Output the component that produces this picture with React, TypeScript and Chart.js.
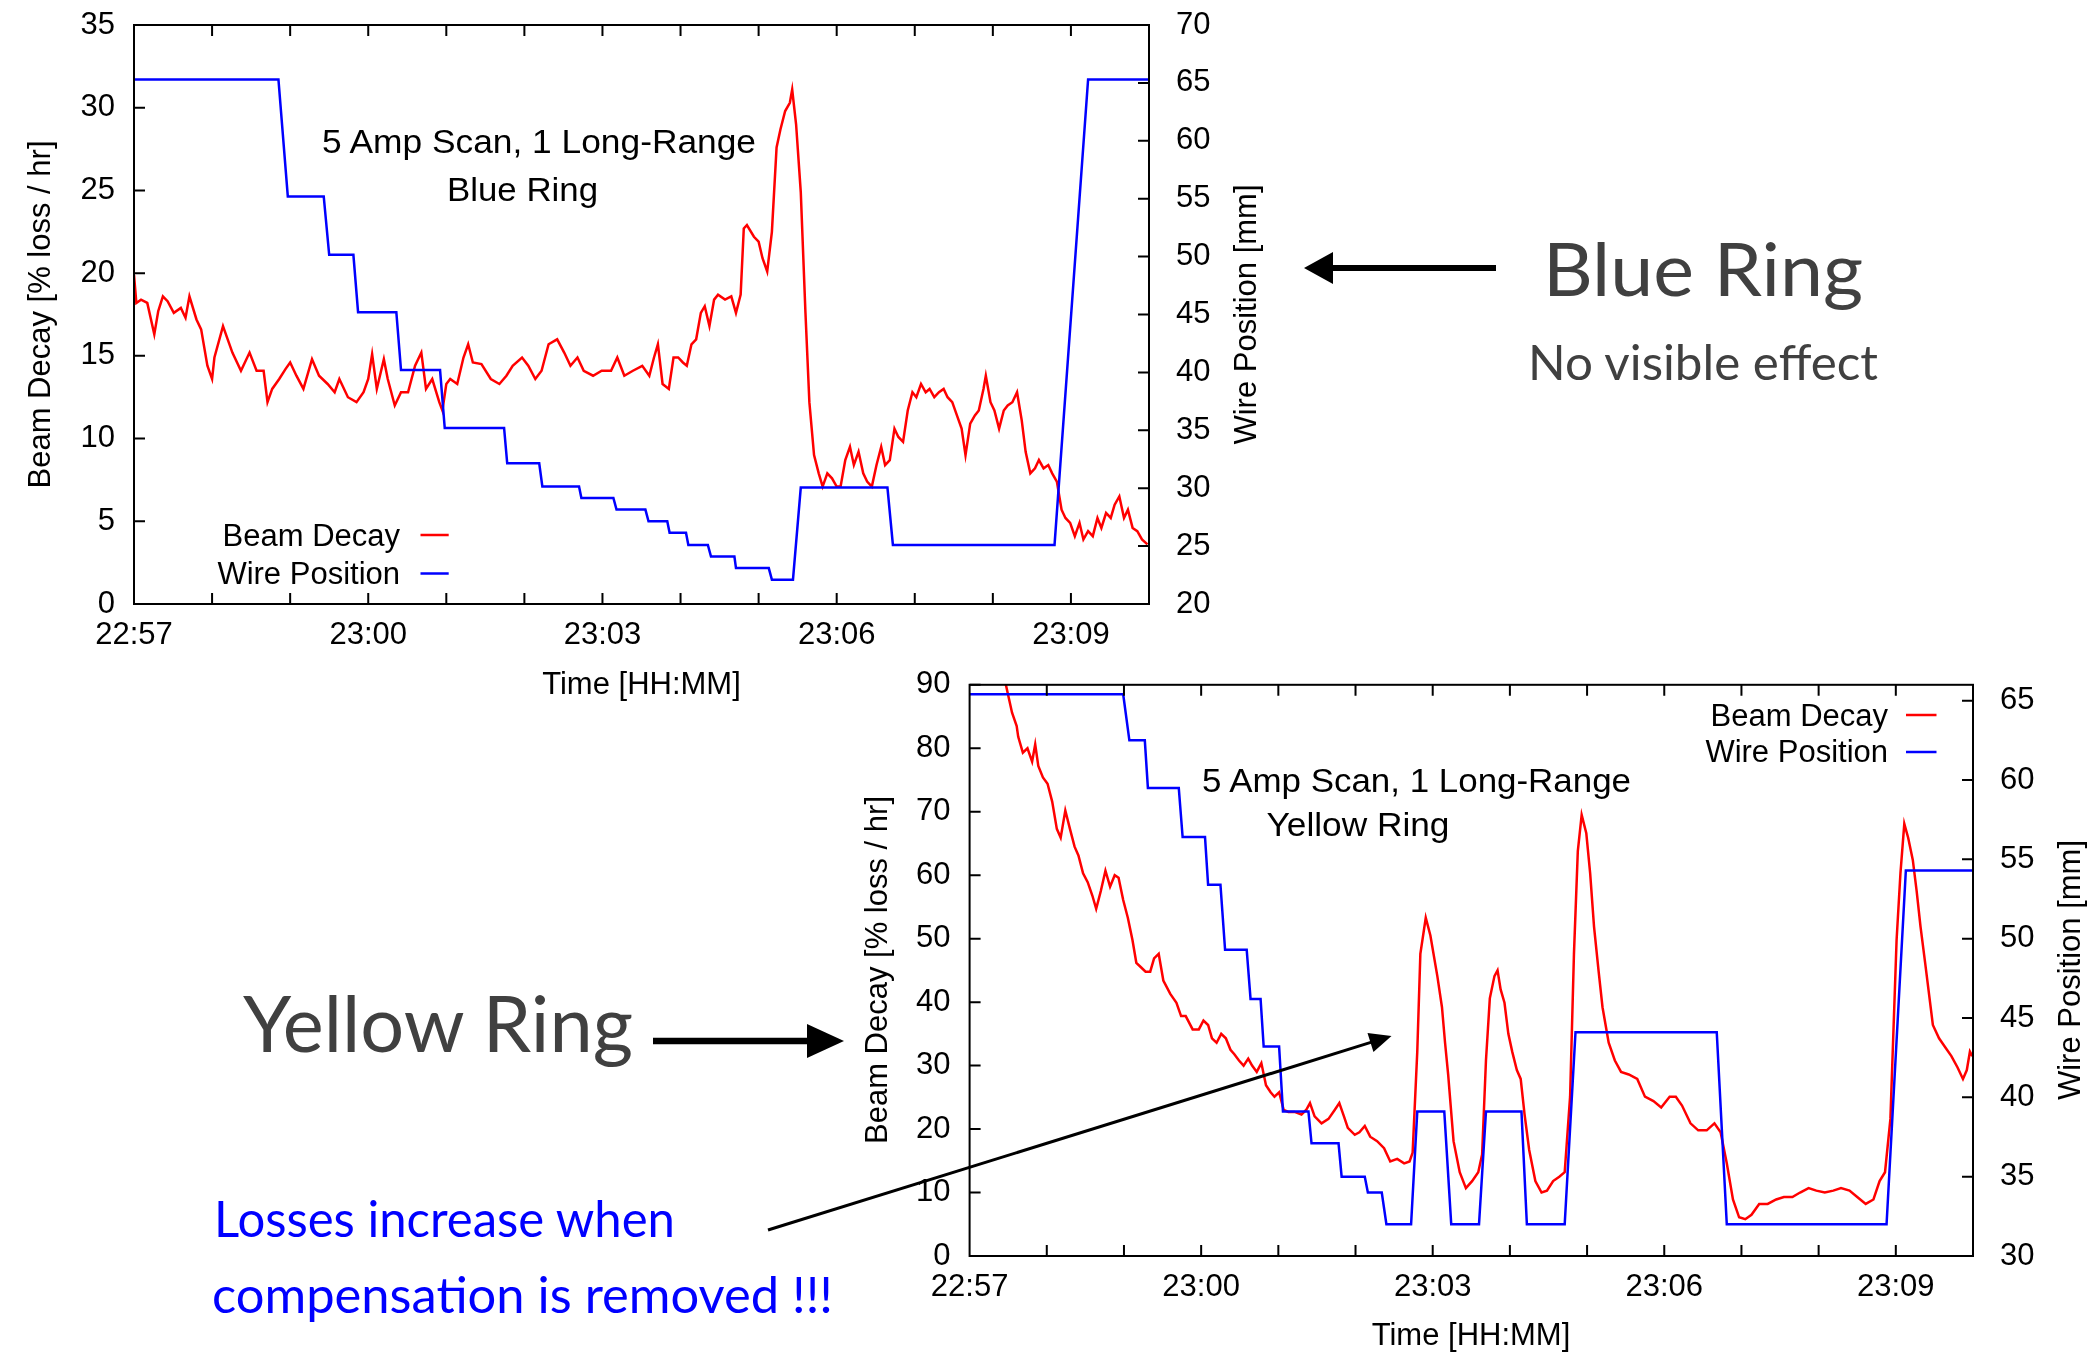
import React, { useEffect, useRef } from 'react';
import { Chart, registerables } from 'chart.js';

Chart.register(...registerables);

const PLOT_FONT = "'Liberation Sans', Arial, Helvetica, sans-serif";
const SLIDE_FONT = "Lato, 'Open Sans', 'DejaVu Sans', sans-serif";

// Time axis: minutes after 22:57
const timeTickMinutes = [0, 3, 6, 9, 12];
const timeTickLabels = ['22:57', '23:00', '23:03', '23:06', '23:09'];

const decayLabel = 'Beam Decay';
const wireLabel = 'Wire Position';

// ---- Blue ring ----
const blueDecayMin = [
  0.0, 0.03, 0.09, 0.17, 0.26, 0.31, 0.37, 0.43, 0.51, 0.6,
  0.66, 0.71, 0.8, 0.86, 0.94, 1.0, 1.03, 1.14, 1.2, 1.26,
  1.37, 1.48, 1.57, 1.66, 1.71, 1.77, 1.86, 1.94, 2.0, 2.08,
  2.17, 2.28, 2.37, 2.48, 2.57, 2.63, 2.74, 2.85, 2.94, 3.0,
  3.05, 3.11, 3.2, 3.25, 3.34, 3.42, 3.51, 3.6, 3.68, 3.74,
  3.82, 3.91, 3.95, 4.0, 4.05, 4.14, 4.22, 4.28, 4.34, 4.45,
  4.57, 4.68, 4.77, 4.85, 4.97, 5.05, 5.14, 5.22, 5.31, 5.42,
  5.51, 5.59, 5.68, 5.76, 5.88, 5.99, 6.11, 6.19, 6.28, 6.39,
  6.51,
  6.6, 6.66, 6.71, 6.77, 6.85, 6.91, 6.97, 7.03, 7.08, 7.14,
  7.2, 7.26, 7.31, 7.37, 7.43, 7.48, 7.57, 7.65, 7.71, 7.77,
  7.81, 7.85, 7.94, 8.0, 8.05, 8.11, 8.17, 8.23, 8.28, 8.34,
  8.4, 8.43, 8.48, 8.54, 8.6, 8.65, 8.71, 8.77, 8.82, 8.88,
  8.94, 9.0, 9.05, 9.11, 9.17, 9.22, 9.28, 9.34, 9.39, 9.45,
  9.51, 9.57, 9.62, 9.68, 9.74, 9.79, 9.85, 9.91, 9.97, 10.02,
  10.08, 10.14, 10.19, 10.25, 10.31, 10.37, 10.42, 10.48, 10.54, 10.6,
  10.65, 10.71, 10.77, 10.82, 10.88, 10.91, 10.97, 11.02, 11.08, 11.14,
  11.19, 11.25, 11.31, 11.37, 11.42, 11.48, 11.54, 11.59, 11.65, 11.71,
  11.76, 11.82, 11.88, 11.93, 11.99, 12.05, 12.11, 12.16, 12.22, 12.28,
  12.34, 12.39, 12.45, 12.51, 12.56, 12.62, 12.68, 12.73, 12.79, 12.85,
  12.91, 12.98,
];
const blueDecayPct = [
  19.9, 18.2, 18.4, 18.2, 16.3, 17.7, 18.6, 18.3, 17.6, 17.9,
  17.3, 18.6, 17.2, 16.6, 14.4, 13.6, 14.9, 16.8, 16.0, 15.2,
  14.1, 15.2, 14.1, 14.1, 12.2, 13.0, 13.6, 14.2, 14.6, 13.8,
  13.0, 14.8, 13.8, 13.3, 12.8, 13.6, 12.5, 12.2, 12.8, 13.6,
  15.1, 13.0, 14.8, 13.6, 12.0, 12.8, 12.8, 14.4, 15.2, 13.0,
  13.6, 12.2, 11.7, 13.3, 13.6, 13.3, 14.9, 15.7, 14.6, 14.5,
  13.6, 13.3, 13.8, 14.4, 14.9, 14.4, 13.6, 14.1, 15.7, 16.0,
  15.2, 14.4, 14.9, 14.1, 13.8, 14.1, 14.1, 14.9, 13.8, 14.1,
  14.4,
  13.8, 14.9, 15.7, 13.3, 13.0, 14.9, 14.9, 14.6, 14.4, 15.7,
  16.0, 17.6, 18.0, 16.8, 18.4, 18.7, 18.4, 18.6, 17.6, 18.7,
  22.7, 22.9, 22.2, 21.9, 20.9, 20.1, 22.5, 27.6, 28.7, 29.8,
  30.3, 31.1, 29.0, 24.9, 17.6, 12.2, 9.0, 7.9, 7.1, 7.9,
  7.6, 7.1, 7.1, 8.7, 9.5, 8.4, 9.2, 7.9, 7.4, 7.1,
  8.4, 9.5, 8.4, 8.7, 10.6, 10.1, 9.8, 11.7, 12.8, 12.5,
  13.3, 12.8, 13.0, 12.5, 12.8, 13.0, 12.5, 12.2, 11.4, 10.6,
  9.0, 10.9, 11.4, 11.7, 13.0, 13.8, 12.2, 11.7, 10.6, 11.7,
  12.0, 12.2, 12.8, 11.1, 9.2, 7.9, 8.2, 8.7, 8.2, 8.4,
  7.9, 7.4, 5.7, 5.2, 4.9, 4.1, 4.9, 3.9, 4.4, 4.1,
  5.2, 4.6, 5.5, 5.2, 6.0, 6.5, 5.2, 5.7, 4.6, 4.4,
  3.9, 3.6,
];
const blueWireMin = [
  0, 1.85, 1.97, 2.43, 2.5, 2.81, 2.87, 3.36, 3.42, 3.92,
  3.98, 4.74, 4.78, 5.19, 5.23, 5.7, 5.73, 6.14, 6.18, 6.55,
  6.59, 6.83, 6.86, 7.07, 7.1, 7.35, 7.39, 7.69, 7.71, 8.13,
  8.17, 8.44, 8.54, 9.65, 9.72, 11.79, 12.22, 13,
];
const blueWireMm = [
  65.3, 65.3, 55.2, 55.2, 50.15, 50.15, 45.2, 45.2, 40.2, 40.2,
  35.2, 35.2, 32.15, 32.15, 30.15, 30.15, 29.15, 29.15, 28.15, 28.15,
  27.15, 27.15, 26.15, 26.15, 25.1, 25.1, 24.1, 24.1, 23.1, 23.1,
  22.1, 22.1, 30.05, 30.05, 25.1, 25.1, 65.3, 65.3,
];
const blueDecayTicks = [0, 5, 10, 15, 20, 25, 30, 35];
const blueWireTicks = [20, 25, 30, 35, 40, 45, 50, 55, 60, 65, 70];
const blueWireMax = 70;

// ---- Yellow ring ----
const yellowDecayMin = [
  0.42, 0.47, 0.51, 0.55, 0.61, 0.63, 0.69, 0.75, 0.81, 0.85, 0.89,
  0.95, 1.01, 1.07, 1.13, 1.18, 1.24, 1.3, 1.36, 1.41, 1.47,
  1.53, 1.59, 1.64, 1.7, 1.76, 1.82, 1.88, 1.93, 1.99, 2.05,
  2.11, 2.16, 2.22, 2.28, 2.34, 2.39, 2.45, 2.51, 2.6, 2.68,
  2.74, 2.8, 2.89, 2.97, 3.03, 3.09, 3.14, 3.2, 3.26, 3.32,
  3.38, 3.43, 3.49, 3.55, 3.61, 3.66, 3.72, 3.78, 3.84, 3.9,
  3.95, 4.01, 4.07, 4.13, 4.21, 4.3, 4.36, 4.41, 4.47, 4.56,
  4.65, 4.73, 4.79, 4.85, 4.9, 4.99, 5.05, 5.12, 5.19, 5.28,
  5.37, 5.45, 5.54, 5.63, 5.7, 5.74, 5.8, 5.84, 5.91, 5.97,
  6.06, 6.12, 6.16, 6.2,
  6.27, 6.35, 6.43, 6.51, 6.59, 6.64, 6.69, 6.74, 6.8, 6.84,
  6.88, 6.93, 6.98, 7.03, 7.09, 7.14, 7.19, 7.25, 7.33, 7.41,
  7.48, 7.56, 7.64, 7.71, 7.78, 7.83, 7.88, 7.93, 7.99, 8.04,
  8.09, 8.15, 8.2, 8.28, 8.36, 8.44, 8.54, 8.65, 8.75, 8.86,
  8.96, 9.07, 9.15, 9.23, 9.34, 9.44, 9.55, 9.65, 9.73, 9.81,
  9.89, 9.97, 10.05, 10.13, 10.23, 10.34, 10.45, 10.55, 10.66, 10.76,
  10.87, 10.97, 11.08, 11.19, 11.29, 11.4, 11.5, 11.61, 11.71, 11.79,
  11.86, 11.93, 12.01, 12.06, 12.11, 12.16, 12.22, 12.27, 12.32, 12.38,
  12.43, 12.48, 12.56, 12.64, 12.72, 12.8, 12.87, 12.92, 12.96, 12.99,
];
const yellowDecayPct = [
  94, 90, 87.8, 85.6, 83.5, 81.8, 79.3, 80.0, 77.9, 80.6, 77.2,
  75.4, 74.4, 71.6, 67.3, 65.9, 70.2, 67.3, 64.5, 63.1, 60.3,
  58.9, 56.8, 54.7, 57.5, 60.7, 58.2, 60.0, 59.6, 56.1, 53.3,
  49.8, 46.2, 45.5, 44.8, 44.8, 46.9, 47.6, 43.4, 41.3, 39.9,
  37.8, 37.8, 35.7, 35.7, 37.1, 36.4, 34.3, 33.6, 35.0, 34.3,
  32.5, 31.8, 30.8, 30.0, 31.1, 30.0, 29.0, 30.4, 26.9, 25.8,
  25.1, 25.8, 23.0, 22.7, 22.7, 22.3, 23.0, 24.1, 22.0, 20.9,
  21.6, 23.0, 24.1, 22.0, 20.2, 19.1, 19.5, 20.5, 18.8, 18.1,
  17.0, 14.9, 15.3, 14.6, 14.9, 16.3, 32.2, 47.6, 53.3, 50.5,
  44.1, 39.2, 33.6, 28.6,
  18.1, 13.2, 10.7, 11.8, 13.2, 16.0, 30.8, 40.6, 44.1, 45.0,
  42.0, 39.9, 35.0, 32.2, 29.3, 27.9, 22.3, 16.7, 11.8, 10.0,
  10.3, 11.8, 12.5, 13.2, 25.1, 47.6, 63.8, 69.5, 66.6, 60.3,
  51.9, 44.8, 39.2, 33.6, 30.8, 29.0, 28.6, 27.9, 25.1, 24.4,
  23.4, 25.1, 25.1, 23.7, 20.9, 19.8, 19.8, 20.9, 19.5, 14.6,
  8.9, 6.1, 5.8, 6.5, 8.2, 8.2, 8.9, 9.3, 9.3, 10.0,
  10.7, 10.3, 10.0, 10.3, 10.7, 10.3, 9.3, 8.2, 8.9, 11.8,
  13.2, 21.6, 49.8, 60.3, 68.1, 65.9, 62.4, 57.5, 51.9, 46.2,
  41.3, 36.4, 34.3, 32.9, 31.5, 29.7, 27.9, 29.3, 32.2, 31.5,
];
const yellowWireMin = [
  0, 1.99, 2.07, 2.27, 2.31, 2.71, 2.76, 3.05, 3.09, 3.25,
  3.31, 3.59, 3.64, 3.77, 3.81, 4.01, 4.06, 4.39, 4.43, 4.78,
  4.82, 5.12, 5.16, 5.34, 5.4, 5.72, 5.8, 6.15, 6.24, 6.6,
  6.69, 7.15, 7.22, 7.71, 7.85, 9.68, 9.81, 11.88, 12.13, 13,
];
const yellowWireMm = [
  65.4, 65.4, 62.5, 62.5, 59.5, 59.5, 56.4, 56.4, 53.4, 53.4,
  49.3, 49.3, 46.2, 46.2, 43.2, 43.2, 39.1, 39.1, 37.1, 37.1,
  35.0, 35.0, 34.0, 34.0, 32.0, 32.0, 39.1, 39.1, 32.0, 32.0,
  39.1, 39.1, 32.0, 32.0, 44.1, 44.1, 32.0, 32.0, 54.3, 54.3,
];
const yellowDecayTicks = [0, 10, 20, 30, 40, 50, 60, 70, 80, 90];
const yellowWireTicks = [30, 35, 40, 45, 50, 55, 60, 65];
const yellowWireMax = 66;

const RED = '#ff0000';
const BLUE = '#0000ff';

// Closed frame with inward tick marks on all four sides (gnuplot style)
const frameTicks = {
  id: 'frameTicks',
  afterDatasetsDraw(chart: any) {
    const { ctx, chartArea: a, scales } = chart;
    const len = 11;
    ctx.save();
    ctx.strokeStyle = '#000';
    ctx.lineWidth = 2;
    ctx.beginPath();
    const xs = scales.x;
    for (let m = Math.floor(xs.min) + 1; m < xs.max; m++) {
      const px = xs.getPixelForValue(m);
      ctx.moveTo(px, a.bottom);
      ctx.lineTo(px, a.bottom - len);
      ctx.moveTo(px, a.top);
      ctx.lineTo(px, a.top + len);
    }
    for (const t of scales.y.ticks) {
      const py = scales.y.getPixelForValue(t.value);
      ctx.moveTo(a.left, py);
      ctx.lineTo(a.left + len, py);
    }
    for (const t of scales.y2.ticks) {
      const py = scales.y2.getPixelForValue(t.value);
      ctx.moveTo(a.right, py);
      ctx.lineTo(a.right - len, py);
    }
    ctx.stroke();
    ctx.strokeRect(a.left, a.top, a.right - a.left, a.bottom - a.top);
    ctx.restore();
  },
};

type RingSpec = {
  decayMin: number[];
  decayPct: number[];
  wireMin: number[];
  wireMm: number[];
  decayTicks: number[];
  wireTicks: number[];
  wireMax: number;
  leftWidth: number;
  rightWidth: number;
  bottomHeight: number;
  padTop: number;
};

function buildConfig(s: RingSpec): any {
  const tickFont = { family: PLOT_FONT, size: 31 };
  const fixedTicks = (vals: number[]) => (scale: any) => {
    scale.ticks = vals.map((v) => ({ value: v }));
  };
  const fixedWidth = (w: number) => (scale: any) => {
    scale.width = w;
    scale.paddingTop = 0;
    scale.paddingBottom = 0;
  };
  return {
    type: 'line',
    data: {
      datasets: [
        {
          label: wireLabel,
          data: s.wireMin.map((t, i) => ({ x: t, y: s.wireMm[i] })),
          yAxisID: 'y2',
          borderColor: BLUE,
          borderWidth: 2.5,
          pointRadius: 0,
          tension: 0,
          order: 1,
        },
        {
          label: decayLabel,
          data: s.decayMin.map((t, i) => ({ x: t, y: s.decayPct[i] })),
          yAxisID: 'y',
          borderColor: RED,
          borderWidth: 2.5,
          pointRadius: 0,
          tension: 0,
          order: 2,
        },
      ],
    },
    options: {
      responsive: false,
      animation: false,
      devicePixelRatio: 1,
      events: [],
      layout: { padding: { top: s.padTop, left: 0, right: 0, bottom: 0 } },
      plugins: { legend: { display: false }, tooltip: { enabled: false } },
      scales: {
        x: {
          type: 'linear',
          min: 0,
          max: 13,
          grid: { display: false, drawTicks: false },
          border: { display: false },
          afterBuildTicks: fixedTicks(timeTickMinutes),
          afterFit: (scale: any) => {
            scale.height = s.bottomHeight;
            scale.paddingLeft = 0;
            scale.paddingRight = 0;
          },
          ticks: {
            autoSkip: false,
            maxRotation: 0,
            padding: 13,
            color: '#000',
            font: tickFont,
            callback: (v: number) => timeTickLabels[timeTickMinutes.indexOf(v)] ?? '',
          },
        },
        y: {
          type: 'linear',
          position: 'left',
          min: s.decayTicks[0],
          max: s.decayTicks[s.decayTicks.length - 1],
          grid: { display: false, drawTicks: false },
          border: { display: false },
          afterBuildTicks: fixedTicks(s.decayTicks),
          afterFit: fixedWidth(s.leftWidth),
          ticks: { padding: 19, color: '#000', font: tickFont },
        },
        y2: {
          type: 'linear',
          position: 'right',
          min: s.wireTicks[0],
          max: s.wireMax,
          grid: { display: false, drawTicks: false },
          border: { display: false },
          afterBuildTicks: fixedTicks(s.wireTicks),
          afterFit: fixedWidth(s.rightWidth),
          ticks: { padding: 27, color: '#000', font: tickFont },
        },
      },
    },
    plugins: [frameTicks],
  };
}

function RingChart(props: { spec: RingSpec; left: number; top: number; width: number; height: number }) {
  const ref = useRef<HTMLCanvasElement>(null);
  useEffect(() => {
    const chart = new Chart(ref.current as HTMLCanvasElement, buildConfig(props.spec));
    return () => chart.destroy();
  }, []);
  return (
    <canvas
      ref={ref}
      width={props.width}
      height={props.height}
      style={{ position: 'absolute', left: props.left, top: props.top, width: props.width, height: props.height }}
    />
  );
}

const blueSpec: RingSpec = {
  decayMin: blueDecayMin,
  decayPct: blueDecayPct,
  wireMin: blueWireMin,
  wireMm: blueWireMm,
  decayTicks: blueDecayTicks,
  wireTicks: blueWireTicks,
  wireMax: blueWireMax,
  leftWidth: 134,
  rightWidth: 141,
  bottomHeight: 106,
  padTop: 25,
};

const yellowSpec: RingSpec = {
  decayMin: yellowDecayMin,
  decayPct: yellowDecayPct,
  wireMin: yellowWireMin,
  wireMm: yellowWireMm,
  decayTicks: yellowDecayTicks,
  wireTicks: yellowWireTicks,
  wireMax: yellowWireMax,
  leftWidth: 139.6,
  rightWidth: 118,
  bottomHeight: 96,
  padTop: 24.8,
};

function Arrow(props: { x1: number; y1: number; x2: number; y2: number; width: number; head: number; half: number }) {
  const { x1, y1, x2, y2, width, head, half } = props;
  const dx = x2 - x1;
  const dy = y2 - y1;
  const L = Math.hypot(dx, dy);
  const ux = dx / L;
  const uy = dy / L;
  const bx = x2 - ux * head;
  const by = y2 - uy * head;
  const px = -uy;
  const py = ux;
  return (
    <g>
      <line x1={x1} y1={y1} x2={bx + ux * 2} y2={by + uy * 2} stroke="#000" strokeWidth={width} />
      <polygon
        points={`${x2},${y2} ${bx + px * half},${by + py * half} ${bx - px * half},${by - py * half}`}
        fill="#000"
      />
    </g>
  );
}

function Overlay() {
  const t = { fontFamily: PLOT_FONT, fill: '#000' } as const;
  const s = { fontFamily: SLIDE_FONT, fontWeight: 400, lengthAdjust: 'spacingAndGlyphs' } as const;
  return (
    <svg
      width={2091}
      height={1352}
      style={{ position: 'absolute', left: 0, top: 0, pointerEvents: 'none' }}
    >
      {/* Blue ring plot texts */}
      <text {...t} fontSize={31} textAnchor="middle" transform="translate(50,314.5) rotate(-90)">
        Beam Decay [% loss / hr]
      </text>
      <text {...t} fontSize={31} textAnchor="middle" transform="translate(1256,314.5) rotate(-90)">
        Wire Position [mm]
      </text>
      <text {...t} fontSize={31} textAnchor="middle" x={641.5} y={693.5}>
        Time [HH:MM]
      </text>
      <text {...t} fontSize={34} x={322} y={153} textLength={434} lengthAdjust="spacingAndGlyphs">
        5 Amp Scan, 1 Long-Range
      </text>
      <text {...t} fontSize={34} x={447} y={201} textLength={151} lengthAdjust="spacingAndGlyphs">
        Blue Ring
      </text>
      <text {...t} fontSize={31} textAnchor="end" x={400} y={545.5}>
        {decayLabel}
      </text>
      <text {...t} fontSize={31} textAnchor="end" x={400} y={584}>
        {wireLabel}
      </text>
      <line x1={420.5} y1={535} x2={448.7} y2={535} stroke={RED} strokeWidth={2.5} />
      <line x1={420.5} y1={573.5} x2={448.7} y2={573.5} stroke={BLUE} strokeWidth={2.5} />

      {/* Yellow ring plot texts */}
      <text {...t} fontSize={31} textAnchor="middle" transform="translate(887,970) rotate(-90)">
        Beam Decay [% loss / hr]
      </text>
      <text {...t} fontSize={31} textAnchor="middle" transform="translate(2080,970) rotate(-90)">
        Wire Position [mm]
      </text>
      <text {...t} fontSize={31} textAnchor="middle" x={1471} y={1345}>
        Time [HH:MM]
      </text>
      <text {...t} fontSize={34} x={1202} y={792} textLength={429} lengthAdjust="spacingAndGlyphs">
        5 Amp Scan, 1 Long-Range
      </text>
      <text {...t} fontSize={34} x={1266.5} y={835.5} textLength={183} lengthAdjust="spacingAndGlyphs">
        Yellow Ring
      </text>
      <text {...t} fontSize={31} textAnchor="end" x={1888} y={726}>
        {decayLabel}
      </text>
      <text {...t} fontSize={31} textAnchor="end" x={1888} y={762}>
        {wireLabel}
      </text>
      <line x1={1906} y1={715} x2={1936.5} y2={715} stroke={RED} strokeWidth={2.5} />
      <line x1={1906} y1={752} x2={1936.5} y2={752} stroke={BLUE} strokeWidth={2.5} />

      {/* Slide annotations */}
      <text {...s} fill="#404040" fontSize={74} x={1543} y={296} textLength={320}>
        Blue Ring
      </text>
      <text {...s} fill="#404040" fontSize={49} x={1528} y={380} textLength={350}>
        No visible effect
      </text>
      <Arrow x1={1496} y1={268} x2={1304} y2={268} width={6} head={29} half={16} />

      <text {...s} fill="#404040" fontSize={77} x={243} y={1052} textLength={390}>
        Yellow Ring
      </text>
      <Arrow x1={653} y1={1041} x2={844} y2={1041} width={6.5} head={37} half={17} />

      <text {...s} fill="#0000ff" fontSize={50} x={214} y={1237} textLength={461}>
        Losses increase when
      </text>
      <text {...s} fill="#0000ff" fontSize={50} x={212} y={1313} textLength={621}>
        compensation is removed !!!
      </text>
      <Arrow x1={768} y1={1230} x2={1391.5} y2={1036} width={3} head={22} half={10} />
    </svg>
  );
}

export default function App() {
  return (
    <div
      style={{
        position: 'absolute',
        left: 0,
        top: 0,
        width: 2091,
        height: 1352,
        background: '#fff',
        overflow: 'hidden',
      }}
    >
      <RingChart spec={blueSpec} left={0} top={0} width={1290} height={710} />
      <RingChart spec={yellowSpec} left={830} top={660} width={1261} height={692} />
      <Overlay />
    </div>
  );
}
